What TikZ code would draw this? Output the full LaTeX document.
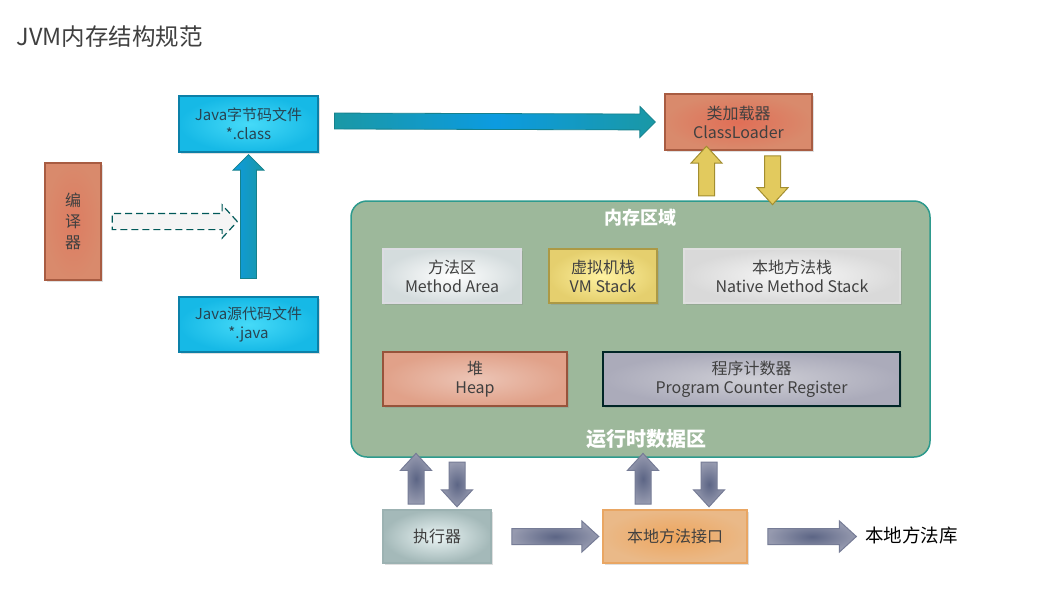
\documentclass[tikz,border=0pt]{standalone}
\usepackage{fontspec}
\setmainfont{Noto Sans CJK SC}
\usepackage{tikz}
\usetikzlibrary{arrows.meta,shapes.arrows,shadows,calc,positioning}
\definecolor{txtgray}{RGB}{64,64,64}
\definecolor{javatxt}{RGB}{40,68,82}
\definecolor{memgreen}{RGB}{157,184,155}
\definecolor{memedge}{RGB}{46,154,141}
\definecolor{salmon}{RGB}{217,138,108}
\definecolor{salmonedge}{RGB}{168,92,66}
\definecolor{cyanin}{RGB}{70,218,248}
\definecolor{cyanout}{RGB}{22,185,230}
\definecolor{cyanedge}{RGB}{12,128,168}
\definecolor{arrteal}{RGB}{26,152,165}
\definecolor{arrblue}{RGB}{12,155,224}
\definecolor{grayarr}{RGB}{92,101,133}
\definecolor{grayarrout}{RGB}{150,154,175}
\definecolor{grayedge}{RGB}{118,124,150}
\definecolor{yellarr}{RGB}{226,202,94}
\definecolor{yelledge}{RGB}{163,142,48}

% block arrow from one named point to another
\newcommand{\blockarrow}[3]{%
  \path let \p1=(#2), \p2=(#3), \n1={veclen(\x2-\x1,\y2-\y1)},
    \n2={atan2(\y2-\y1,\x2-\x1)} in
    node[#1, minimum height=\n1, rotate=\n2] at ($(#2)!0.5!(#3)$) {};}

\tikzset{
  box/.style={draw, line width=1.2pt, inner sep=0pt, align=center, text=txtgray,
    font=\fontsize{16}{19}\selectfont,
    drop shadow={opacity=0.25, shadow xshift=1.5pt, shadow yshift=-1.5pt}},
  fat/.style={single arrow, inner xsep=0pt, inner ysep=7.5pt, minimum width=31pt,
    single arrow head extend=7.5pt, single arrow tip angle=85, line width=1pt},
  grayarrow/.style={fat, draw=grayedge, inner color=grayarr, outer color=grayarrout},
  yellarrow/.style={fat, draw=yelledge, fill=yellarr},
  bluearrow/.style={fat, draw=arrteal!85!black, line width=0.8pt, single arrow tip angle=90},
}

\begin{document}
\begin{tikzpicture}[x=1pt, y=-1pt]
\useasboundingbox[fill=white] (0,0) rectangle (1041,590);

% title
\node[anchor=west, text=txtgray, font=\fontsize{23.5}{26}\selectfont] (title) at (13,37) {JVM内存结构规范};

% compile side
\node[box, draw=salmonedge, inner color=salmon!90!red, outer color=salmon,
  minimum width=56, minimum height=117, font=\fontsize{16}{21}\selectfont] (cmp) at (73,221.5) {编\\译\\器};
\node[box, draw=cyanedge, inner color=cyanin, outer color=cyanout, text=javatxt,
  minimum width=139, minimum height=56, font=\fontsize{15}{19}\selectfont] (bc) at (248.5,124) {Java字节码文件\\*.class};
\node[box, draw=cyanedge, inner color=cyanin, outer color=cyanout, text=javatxt,
  minimum width=139, minimum height=55, font=\fontsize{15}{19}\selectfont] (src) at (248.5,324.5) {Java源代码文件\\*.java};
\node[box, draw=salmonedge, inner color=salmon!80!red, outer color=salmon,
  minimum width=147, minimum height=56] (cl) at (738.5,122) {类加载器\\ClassLoader};

% runtime data area
\node[draw=memedge, fill=memgreen, line width=1.5pt, rounded corners=16pt,
  minimum width=579, minimum height=256, inner sep=0pt] (mem) at (640.5,329) {};
\node[text=white, font=\fontsize{18}{20}\selectfont\bfseries] (memT) at (640,218) {内存区域};
\node[text=white, font=\fontsize{20}{22}\selectfont\bfseries] (rtT) at (646,439) {运行时数据区};

\node[box, draw=blue!10!gray!25, inner color=white, outer color=blue!15!cyan!12!gray!30,
  minimum width=138, minimum height=54] (ma) at (452,276) {方法区\\Method Area};
\node[box, draw=yelledge!90!white, inner color=yellow!30!white!90!orange, outer color=yellarr!90!white,
  minimum width=108, minimum height=54] (vms) at (603,276) {虚拟机栈\\VM Stack};
\node[box, draw=gray!25, inner color=gray!5, outer color=gray!30,
  minimum width=216, minimum height=54] (nms) at (792,276) {本地方法栈\\Native Method Stack};
\node[box, draw=salmonedge!90!black, inner color=salmon!50!white, outer color=salmon!80!white,
  minimum width=184, minimum height=54] (heap) at (475,379) {堆\\Heap};
\node[box, draw=black!70!teal, inner color=blue!8!gray!35, outer color=blue!10!gray!60,
  minimum width=297, minimum height=54] (pcr) at (751.5,379) {程序计数器\\Program Counter Register};

% execution side
\node[box, draw=teal!30!gray!60, inner color=teal!8!white, outer color=teal!30!gray!55,
  minimum width=108, minimum height=53] (exe) at (437,536.5) {执行器};
\node[box, draw=orange!50!brown!70, inner color=orange!60!brown!70, outer color=orange!40!brown!55!white,
  minimum width=144, minimum height=53] (nai) at (675,536.5) {本地方法接口};
\node[anchor=west, inner sep=0pt, font=\fontsize{18.5}{20}\selectfont] (lib) at (865,535) {本地方法库};

% arrow ends
\coordinate (d1) at ($(cmp.east)+(7,0)$);
\coordinate (d2) at ($(d1)+(125,0)$);
\coordinate (b1) at ($(src.north)+(0,-14)$);
\coordinate (b2) at ($(bc.south)+(0,6)$);
\coordinate (t1) at ($(bc.east)+(12,-3)$);
\coordinate (t2) at ($(cl.west)+(-13,0)$);
\coordinate (yu) at ($(cl.south)+(-32,0)$);
\coordinate (yd) at ($(cl.south)+(34,1)$);
\coordinate (eu) at ($(exe.north)+(-21,-1)$);
\coordinate (ed) at ($(exe.north)+(20,-7)$);
\coordinate (nu) at ($(nai.north)+(-32,-1)$);
\coordinate (nd) at ($(nai.north)+(34,-7)$);
\coordinate (r1) at ($(exe.east)+(16,0)$);
\coordinate (r2) at ($(nai.west)+(-8,0)$);
\coordinate (r3) at ($(nai.east)+(16,0)$);
\coordinate (r4) at ($(lib.west)+(-13,1.5)$);

% arrows
\blockarrow{fat, draw=teal!70!black, fill=gray!8, dash pattern=on 7pt off 4pt, line width=1.2pt,
  minimum width=33pt, single arrow head extend=8.5pt, single arrow tip angle=95}{d1}{d2}
\blockarrow{bluearrow, left color=arrblue, right color=arrteal}{b1}{b2}
\blockarrow{bluearrow, left color=arrteal, right color=arrteal, middle color=arrblue}{t1}{t2}
\blockarrow{yellarrow}{yu |- mem.north}{yu}
\blockarrow{yellarrow}{yd}{yd |- mem.north}
\blockarrow{grayarrow}{eu}{eu |- mem.south}
\blockarrow{grayarrow}{ed |- mem.south}{ed}
\blockarrow{grayarrow}{nu}{nu |- mem.south}
\blockarrow{grayarrow}{nd |- mem.south}{nd}
\blockarrow{grayarrow}{r1}{r2}
\blockarrow{grayarrow}{r3}{r4}
\end{tikzpicture}
\end{document}
